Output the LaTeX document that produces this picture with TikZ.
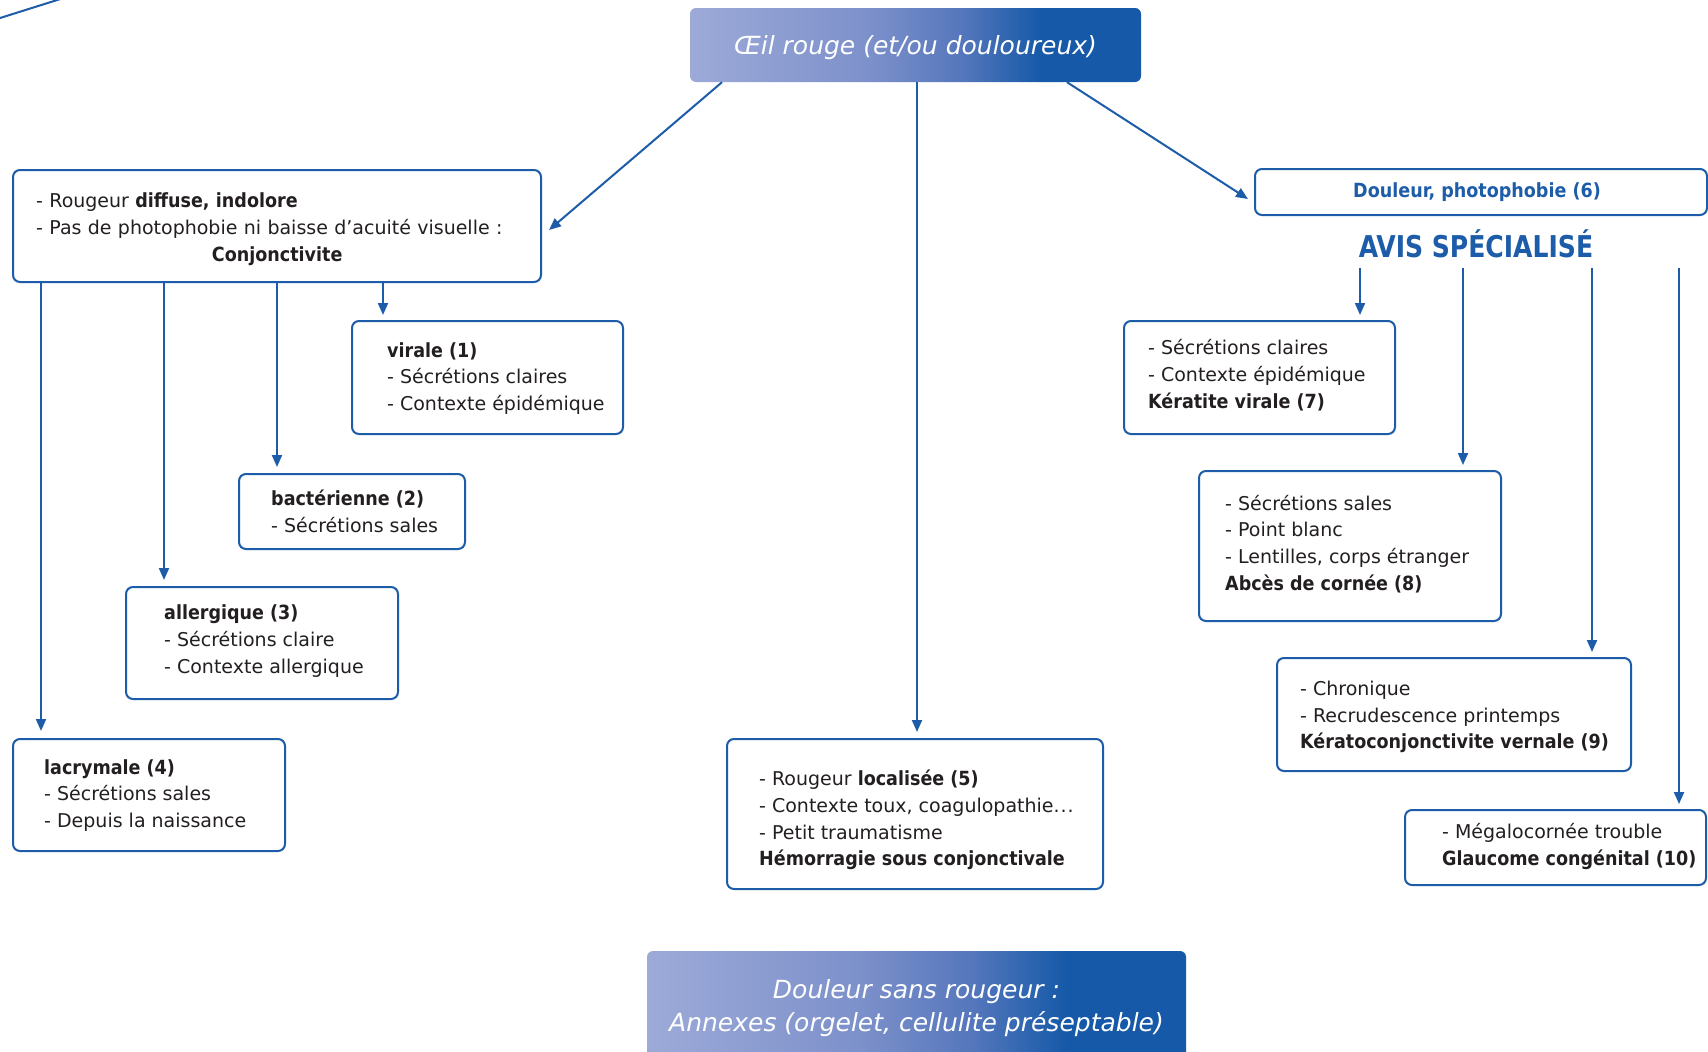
\documentclass[tikz,border=0pt]{standalone}
\usepackage{fontspec}
\setmainfont{DejaVu Sans}[BoldFont={DejaVu Sans Condensed Bold}]
\newfontfamily\condbold{DejaVu Sans Condensed Bold}
\usetikzlibrary{arrows.meta,calc}
\definecolor{bblue}{HTML}{1C5CA9}
\definecolor{tdark}{HTML}{231F20}
\definecolor{gA}{HTML}{9DAAD8}
\definecolor{gB}{HTML}{7C90CA}
\definecolor{gC}{HTML}{5677BC}
\definecolor{gD}{HTML}{1559A8}
\pgfdeclarehorizontalshading{titlegrad}{100bp}{color(0bp)=(gA); color(25bp)=(gA); color(45bp)=(gB); color(55bp)=(gC); color(64bp)=(gD); color(75bp)=(gD); color(100bp)=(gD)}
\newcommand\bodyf{\fontsize{19}{26.8}\selectfont}
\newcommand\titlef{\fontsize{25}{33}\selectfont}
\tikzset{
  box/.style={draw=bblue, line width=2pt, rounded corners=7pt, inner sep=0pt},
  gbox/.style={shading=titlegrad, draw=none, rounded corners=6pt, inner sep=0pt},
  gtxt/.style={text=white, align=center, font=\titlef\itshape, inner sep=0pt},
  txt/.style={font=\bodyf, text=tdark, align=left, inner sep=0pt, anchor=west},
  arr/.style={draw=bblue, line width=2pt, -{Triangle[length=12pt,width=10pt]}},
  plain/.style={draw=bblue, line width=2pt}
}
\newcommand\bb[1]{{\fontsize{19.5}{26.8}\selectfont\bfseries #1}}
\begin{document}
\begin{tikzpicture}[x=1pt,y=-1pt]
\useasboundingbox[fill=white] (0,0) rectangle (1708,1052);

% top-left stray line
\coordinate (tlA) at (-5,19.6);
\coordinate (tlB) at (62,-1.5);
\draw[plain] (tlA) -- (tlB);

% title boxes
\node[gbox, minimum width=451pt, minimum height=74pt] (top) at (915.5,45) {};
\node[gtxt] (toptxt) at ([yshift=-3pt]top.center) {Œil rouge (et/ou douloureux)};
\node[gbox, minimum width=539pt, minimum height=107pt] (bot) at (916.5,1004.5) {};
\node[gtxt] (bottxt) at ([yshift=-4pt]bot.center) {Douleur sans rougeur :\\Annexes (orgelet, cellulite préseptable)};

% boxes
\node[box, minimum width=528pt, minimum height=112pt] (conj) at (277,226) {};
\node[box, minimum width=271pt, minimum height=113pt] (vir) at (487.5,377.5) {};
\node[box, minimum width=226pt, minimum height=75pt] (bact) at (352,511.5) {};
\node[box, minimum width=272pt, minimum height=112pt] (allg) at (262,643) {};
\node[box, minimum width=272pt, minimum height=112pt] (lacr) at (149,795) {};
\node[box, minimum width=376pt, minimum height=150pt] (hem) at (915,814) {};
\node[box, minimum width=452pt, minimum height=46pt] (doul) at (1481,192) {};
\node[box, minimum width=271pt, minimum height=113pt] (ker) at (1259.5,377.5) {};
\node[box, minimum width=302pt, minimum height=150pt] (abc) at (1350,546) {};
\node[box, minimum width=354pt, minimum height=113pt] (ver) at (1454,714.5) {};
\node[box, minimum width=301pt, minimum height=75pt] (gla) at (1555.5,847.5) {};

% texts
\node[txt, text width=482pt] (tconj) at (36,229) {- Rougeur \bb{diffuse, indolore}\\- Pas de photophobie ni baisse d’acuité visuelle :\\\hspace*{\fill}\bb{Conjonctivite}\hspace*{\fill}};
\node[txt] (tvir) at (387,378.5) {\bb{virale (1)}\\- Sécrétions claires\\- Contexte épidémique};
\node[txt] (tbact) at (271,511) {\bb{bactérienne (2)}\\- Sécrétions sales};
\node[txt] (tallg) at (164,641) {\bb{allergique (3)}\\- Sécrétions claire\\- Contexte allergique};
\node[txt] (tlacr) at (44,795.5) {\bb{lacrymale (4)}\\- Sécrétions sales\\- Depuis la naissance};
\node[txt] (themo) at (759,820) {- Rougeur \bb{localisée (5)}\\- Contexte toux, coagulopathie.\kern1pt.\kern1pt.\\- Petit traumatisme\\\bb{Hémorragie sous conjonctivale}};
\node[font=\fontsize{19.5}{24}\selectfont\bfseries, text=bblue, inner sep=0pt] (tdoul) at (1477,192) {Douleur, photophobie (6)};
\node[font=\fontsize{30}{34}\selectfont\condbold, text=bblue, inner sep=0pt] (avis) at (1476,244) {\scalebox{0.93}[1]{AVIS SPÉCIALISÉ}};
\node[txt] (tker) at (1148,375) {- Sécrétions claires\\- Contexte épidémique\\\bb{Kératite virale (7)}};
\node[txt] (tabc) at (1225,544) {- Sécrétions sales\\- Point blanc\\- Lentilles, corps étranger\\\bb{Abcès de cornée (8)}};
\node[txt] (tver) at (1300,717) {- Chronique\\- Recrudescence printemps\\\bb{Kératoconjonctivite vernale (9)}};
\node[txt] (tgla) at (1442,846.5) {- Mégalocornée trouble\\\bb{Glaucome congénital (10)}};

% connectors from title
\coordinate (cTL) at (722,83);
\coordinate (cTM) at (917,83);
\coordinate (cTR) at (1067,83);
\draw[arr] (top.south -| cTL) -- ([shift={(7pt,-4pt)}]conj.east);
\draw[arr, shorten >=6pt] (top.south -| cTM) -- (hem.north -| cTM);
\draw[arr] (top.south -| cTR) -- ([shift={(-6pt,-7pt)}]doul.west);

% connectors from conjonctivite
\coordinate (cL1) at (41,0);
\coordinate (cL2) at (164,0);
\coordinate (cL3) at (277,0);
\coordinate (cL4) at (383,0);
\draw[arr, shorten >=7pt] (conj.south -| cL1) -- (lacr.north -| cL1);
\draw[arr, shorten >=6pt] (conj.south -| cL2) -- (allg.north -| cL2);
\draw[arr, shorten >=6pt] (conj.south -| cL3) -- (bact.north -| cL3);
\draw[arr, shorten >=5pt] (conj.south -| cL4) -- (vir.north -| cL4);

% connectors from avis specialise
\coordinate (r1) at (1360,268);
\coordinate (r2) at (1463,268);
\coordinate (r3) at (1592,268);
\coordinate (r4) at (1679,268);
\draw[arr, shorten >=5pt] (r1) -- (ker.north -| r1);
\draw[arr, shorten >=5pt] (r2) -- (abc.north -| r2);
\draw[arr, shorten >=5pt] (r3) -- (ver.north -| r3);
\draw[arr, shorten >=5pt] (r4) -- (gla.north -| r4);
\end{tikzpicture}
\end{document}
